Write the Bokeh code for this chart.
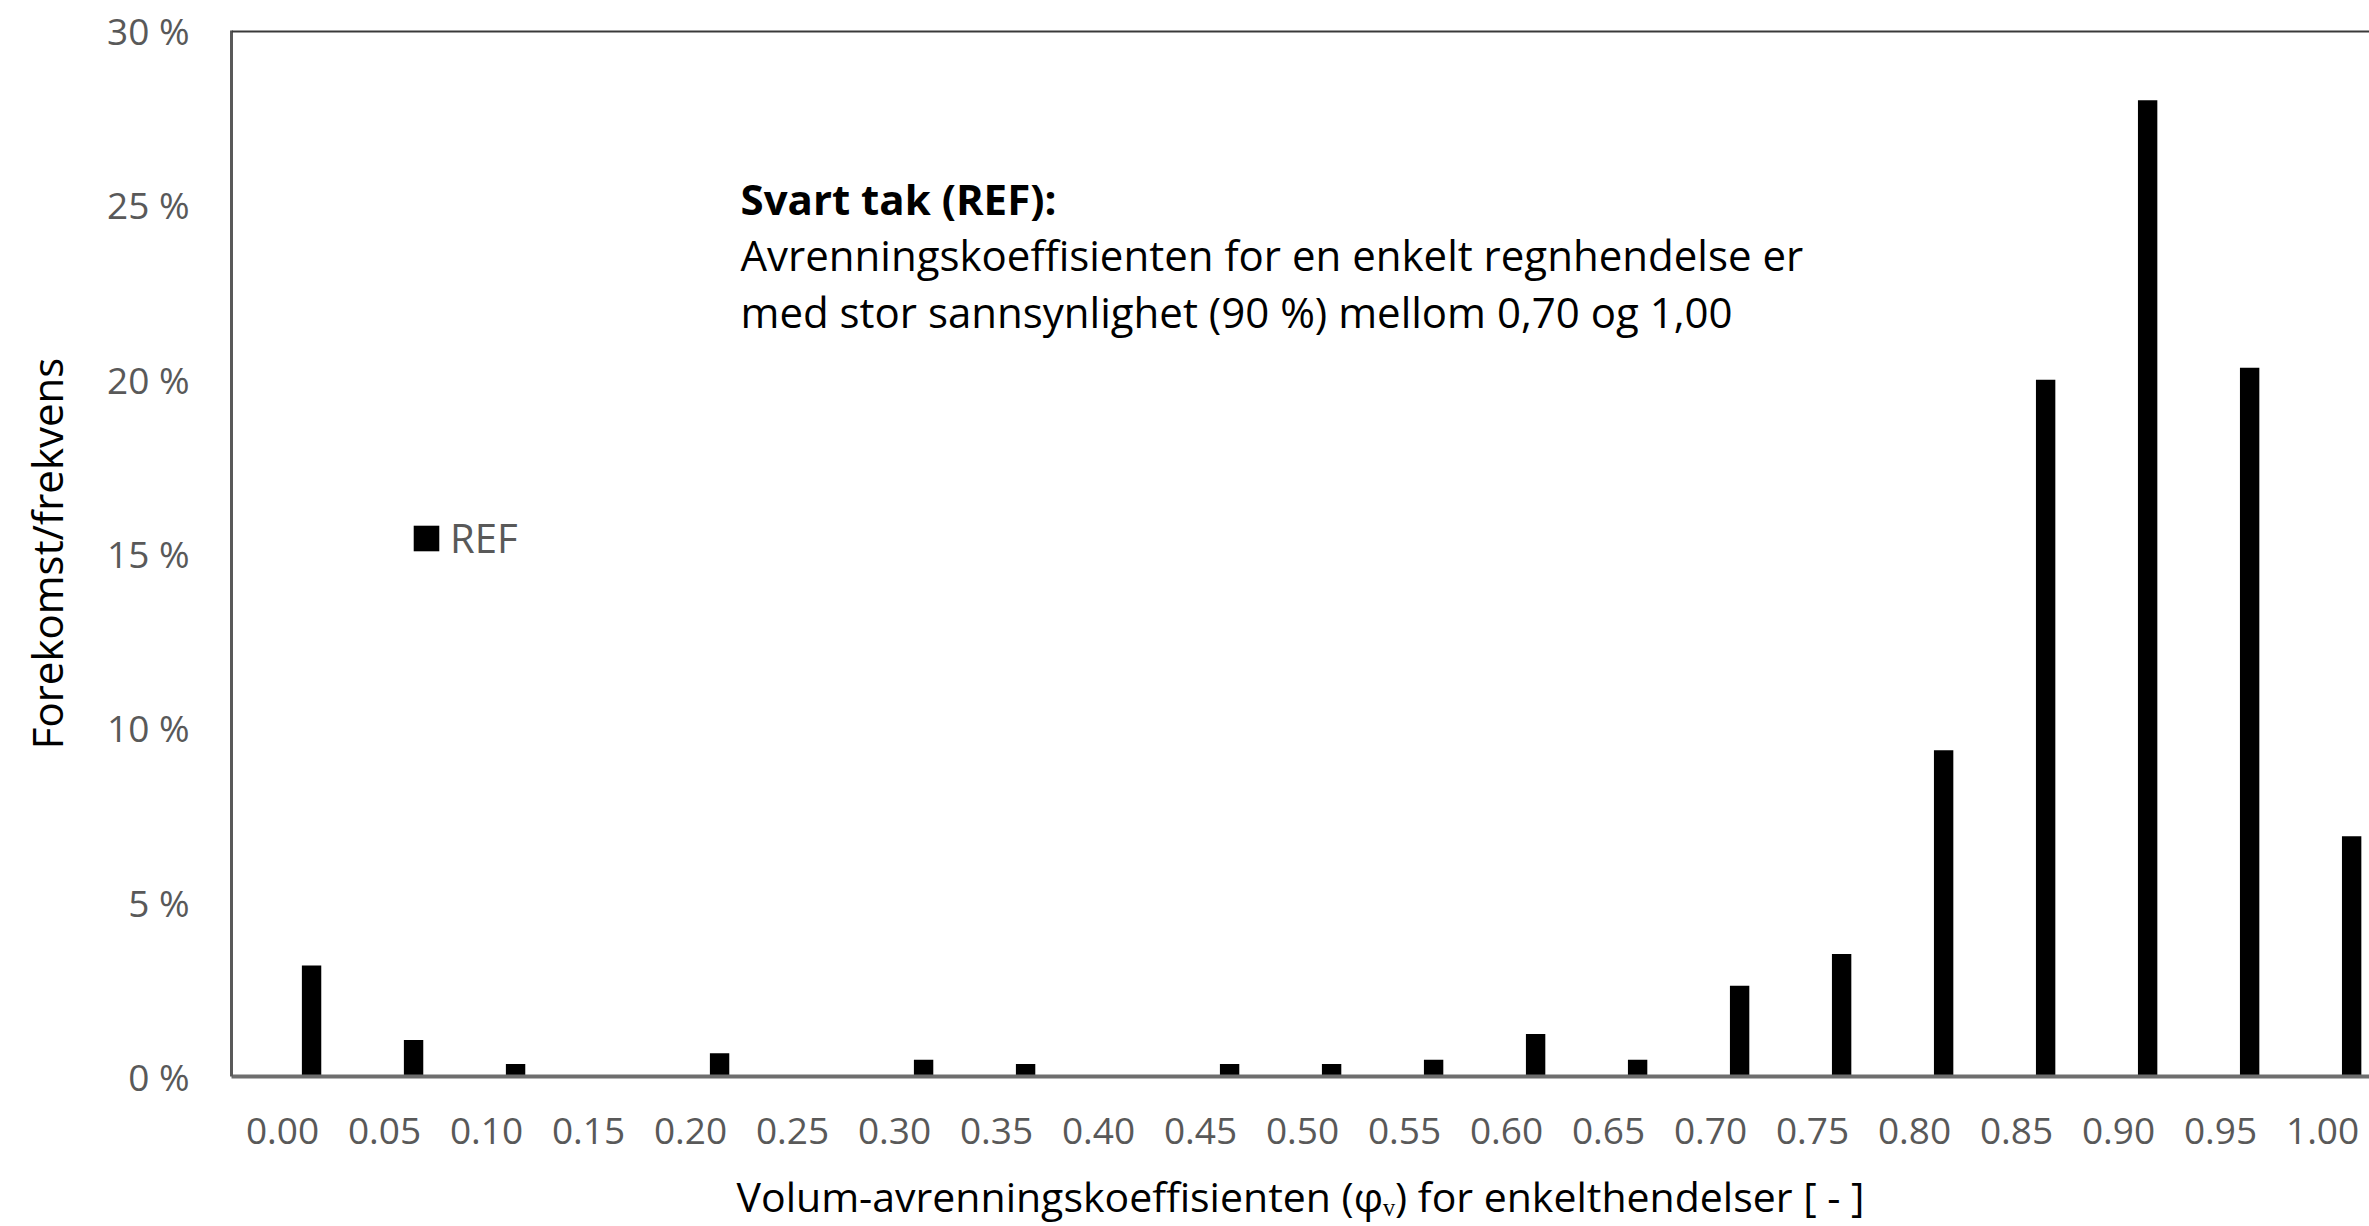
import numpy as np
from bokeh.plotting import figure
from bokeh.models import (Range1d, FixedTicker, Span, Label, Legend, LegendItem,
                          ColumnDataSource)
from bokeh.embed import file_html
from bokeh.resources import INLINE

# ---- data ----
categories = ["0.00", "0.05", "0.10", "0.15", "0.20", "0.25", "0.30", "0.35", "0.40",
              "0.45", "0.50", "0.55", "0.60", "0.65", "0.70", "0.75", "0.80", "0.85",
              "0.90", "0.95", "1.00"]
ref_pct = [3.18, 1.05, 0.36, 0.0, 0.67, 0.0, 0.48, 0.36, 0.0,
           0.36, 0.36, 0.48, 1.22, 0.48, 2.60, 3.51, 9.36, 19.98,
           28.0, 20.33, 6.89]
y_ticks = [0, 5, 10, 15, 20, 25, 30]
series_name = "REF"
x_title = "Volum-avrenningskoeffisienten (\u03c6\u1d65) for enkelthendelser [ - ]"
y_title = "Forekomst/frekvens"
note_title = "Svart tak (REF):"
note_lines = ["Avrenningskoeffisienten for en enkelt regnhendelse er",
              "med stor sannsynlighet (90 %) mellom 0,70 og 1,00"]

FONT = "Open Sans"
TICK_COLOR = "#595959"

idx = np.arange(len(categories))
centers = idx + 0.5
bar_offset = 0.285
src = ColumnDataSource(dict(x=centers + bar_offset, top=ref_pct))

p = figure(width=2369, height=1226, output_backend="svg", toolbar_location=None,
           x_range=Range1d(0, 20.96), y_range=Range1d(0, 30),
           min_border_left=231, min_border_right=0, min_border_top=30,
           min_border_bottom=150)
p.outline_line_color = None
p.grid.grid_line_color = None
p.background_fill_color = "white"
p.border_fill_color = "white"

bars = p.vbar(x="x", top="top", bottom=0, width=0.19, source=src,
              fill_color="black", line_color=None)

# axes
xa = p.xaxis[0]
xa.ticker = FixedTicker(ticks=list(centers))
xa.major_label_overrides = {float(c): lab for c, lab in zip(centers, categories)}
ya = p.yaxis[0]
ya.ticker = FixedTicker(ticks=y_ticks)
ya.major_label_overrides = {t: f"{t} %" for t in y_ticks}

for ax in (xa, ya):
    ax.major_tick_line_color = None
    ax.minor_tick_line_color = None
    ax.major_label_text_font = FONT
    ax.major_label_text_font_size = "37px"
    ax.major_label_text_color = TICK_COLOR
    ax.axis_label_text_font = FONT
    ax.axis_label_text_font_style = "normal"
    ax.axis_label_text_color = "black"

xa.axis_line_color = "#6e6e6e"
xa.axis_line_width = 4
xa.major_label_standoff = 35
xa.axis_label = x_title
xa.axis_label_text_font_size = "41px"
xa.axis_label_standoff = 21

ya.axis_line_color = "#595959"
ya.axis_line_width = 3
ya.major_label_standoff = 36
ya.axis_label = y_title
ya.axis_label_text_font_size = "42px"
ya.axis_label_standoff = 29

# top border of plot area
p.add_layout(Span(location=30, dimension="width", line_color="#3a3a3a", line_width=4))

# legend
leg = Legend(items=[LegendItem(label=series_name, renderers=[bars])],
             location=(179, 511), padding=0, margin=0, spacing=0,
             glyph_width=32, glyph_height=32, label_height=32, label_standoff=8,
             label_text_font=FONT, label_text_font_size="40px",
             label_text_color=TICK_COLOR, border_line_color=None,
             background_fill_alpha=0)
p.add_layout(leg)

# note text
note_x = 4.99
p.add_layout(Label(x=note_x, y=25.18, text=note_title, text_font=FONT,
                   text_font_size="42px", text_font_style="bold", text_color="black",
                   text_baseline="alphabetic"))
for yy, line in zip([23.57, 21.93], note_lines):
    p.add_layout(Label(x=note_x, y=yy, text=line, text_font=FONT,
                       text_font_size="42px", text_color="black",
                       text_baseline="alphabetic"))

open("out.html", "w").write(file_html(p, INLINE))
